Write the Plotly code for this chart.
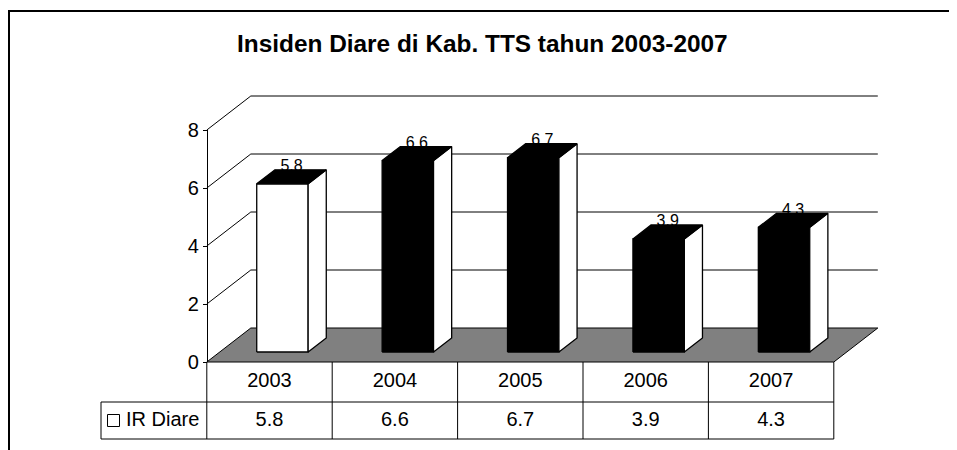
import plotly.graph_objects as go

# ---------------- data ----------------
categories = ["2003", "2004", "2005", "2006", "2007"]
values = [5.8, 6.6, 6.7, 3.9, 4.3]
series_name = "IR Diare"
title_text = "Insiden Diare di Kab. TTS tahun 2003-2007"
y_ticks = [0, 2, 4, 6, 8]

# ---------------- styles / geometry ----------------
front_fill = ["white", "black", "black", "black", "black"]
FONT = "Liberation Sans, Arial, sans-serif"
W, H = 957, 450
OFF = 8              # page body margin (figure origin on screen)
Y0_PX = 362.0        # screen pixel row of value 0 on the front plane
PX_PER_UNIT = 29.0   # pixels per value unit
C0_PX = 269.5        # screen pixel column of first category centre (front plane)
CAT_PX = 125.4       # pixels per category
DX = 44.0 / CAT_PX   # depth offset in category units
DY = 34.0 / PX_PER_UNIT  # depth offset in value units
HALF_W = 0.205       # half bar width (category units)
D0, D1 = 0.294, 0.706  # bar depth span


def px_x(p):
    return (p - C0_PX) / CAT_PX


def px_y(p):
    return (Y0_PX - p) / PX_PER_UNIT


def paper_x(p):
    return (p - OFF) / W


def paper_y(p):
    return 1 - (p - OFF) / H


def proj(c, v, d):
    return c + d * DX, v + d * DY


def poly(points, close=True):
    pts = list(points) + ([points[0]] if close else [])
    xs = [p[0] for p in pts]
    ys = [p[1] for p in pts]
    return xs, ys


n = len(categories)
left, right = -0.5, n - 0.5
ymax = max(y_ticks)

fig = go.Figure()

# floor
fx, fy = poly([proj(left, 0, 0), proj(right, 0, 0), proj(right, 0, 1), proj(left, 0, 1)])
fig.add_trace(go.Scatter(x=fx, y=fy, mode="lines", fill="toself", fillcolor="#808080",
                         line=dict(color="black", width=1), hoverinfo="skip"))

# gridlines (left wall + back wall)
gx, gy = [], []
for t in y_ticks[1:]:
    for p in [proj(left, t, 0), proj(left, t, 1), proj(right, t, 1)]:
        gx.append(p[0]); gy.append(p[1])
    gx.append(None); gy.append(None)
fig.add_trace(go.Scatter(x=gx, y=gy, mode="lines", line=dict(color="black", width=1),
                         hoverinfo="skip"))

# data labels (drawn before bars so bar tops partly cover them)
lx, ly = [], []
for i, v in enumerate(values):
    x, y = proj(i, v, 0.5)
    lx.append(x); ly.append(y + 0.33)
fig.add_trace(go.Scatter(x=lx, y=ly, mode="text", text=[f"{v:.1f}" for v in values],
                         textposition="middle center",
                         textfont=dict(family=FONT, size=16, color="black"), hoverinfo="skip"))

# bars
for i, v in enumerate(values):
    cl, cr = i - HALF_W, i + HALF_W
    front = [proj(cl, 0, D0), proj(cr, 0, D0), proj(cr, v, D0), proj(cl, v, D0)]
    side = [proj(cr, 0, D0), proj(cr, 0, D1), proj(cr, v, D1), proj(cr, v, D0)]
    top = [proj(cl, v, D0), proj(cr, v, D0), proj(cr, v, D1), proj(cl, v, D1)]
    for pts, col in [(front, front_fill[i]), (side, "white"), (top, "black")]:
        xs, ys = poly(pts)
        fig.add_trace(go.Scatter(x=xs, y=ys, mode="lines", fill="toself", fillcolor=col,
                                 line=dict(color="black", width=1.3), hoverinfo="skip"))

# data table
row_b1 = px_y(402)
row_b2 = px_y(439)
leg_left = px_x(101)
tx, ty = [], []
for k in range(n + 1):
    c = left + k
    tx += [c, c, None]; ty += [0, row_b2, None]
tx += [leg_left, right, None, leg_left, right, None, leg_left, leg_left, None]
ty += [row_b1, row_b1, None, row_b2, row_b2, None, row_b1, row_b2, None]
fig.add_trace(go.Scatter(x=tx, y=ty, mode="lines", line=dict(color="black", width=1),
                         hoverinfo="skip"))

mid1 = (0 + row_b1) / 2
mid2 = (row_b1 + row_b2) / 2
fig.add_trace(go.Scatter(x=list(range(n)), y=[mid1] * n, mode="text", text=categories,
                         textposition="middle center",
                         textfont=dict(family=FONT, size=20, color="black"), hoverinfo="skip"))
fig.add_trace(go.Scatter(x=list(range(n)), y=[mid2] * n, mode="text",
                         text=[f"{v:.1f}" for v in values], textposition="middle center",
                         textfont=dict(family=FONT, size=20, color="black"), hoverinfo="skip"))
# legend key + name
fig.add_trace(go.Scatter(x=[px_x(113.5)], y=[mid2], mode="markers",
                         marker=dict(symbol="square", size=12, color="white",
                                     line=dict(color="black", width=1)), hoverinfo="skip"))
fig.add_trace(go.Scatter(x=[px_x(126)], y=[mid2], mode="text", text=[series_name],
                         textposition="middle right",
                         textfont=dict(family=FONT, size=20, color="black"), hoverinfo="skip"))

# invisible trace for the value axis
fig.add_trace(go.Scatter(x=[0], y=[0], xaxis="x", yaxis="y2", mode="markers",
                         marker=dict(opacity=0), hoverinfo="skip"))

fig.update_layout(
    width=W, height=H, autosize=False,
    margin=dict(l=0, r=0, t=0, b=0, pad=0, autoexpand=False),
    paper_bgcolor="white", plot_bgcolor="rgba(0,0,0,0)",
    showlegend=False,
    xaxis=dict(range=[px_x(OFF), px_x(OFF + W)], visible=False, fixedrange=True,
               automargin=False),
    yaxis=dict(range=[px_y(OFF + H), px_y(OFF)], visible=False, fixedrange=True,
               automargin=False),
    yaxis2=dict(domain=[paper_y(Y0_PX), paper_y(Y0_PX - ymax * PX_PER_UNIT)],
                range=[0, ymax], anchor="free", position=paper_x(C0_PX - CAT_PX / 2),
                side="left", showline=True, linecolor="black", linewidth=1,
                ticks="outside", ticklen=4, tickcolor="black", tickvals=y_ticks,
                showgrid=False, zeroline=False, fixedrange=True, automargin=False,
                tickfont=dict(family=FONT, size=20, color="black")),
    annotations=[dict(text=f"<b>{title_text}</b>", x=paper_x(482), y=paper_y(43.5),
                      xref="paper", yref="paper", showarrow=False,
                      xanchor="center", yanchor="middle",
                      font=dict(family=FONT, size=24.4, color="black"))],
    shapes=[dict(type="rect", xref="paper", yref="paper",
                 x0=paper_x(9), x1=1.05, y0=-0.05, y1=paper_y(11),
                 line=dict(color="black", width=2), fillcolor="rgba(0,0,0,0)")],
)

fig.write_html("out.html")
